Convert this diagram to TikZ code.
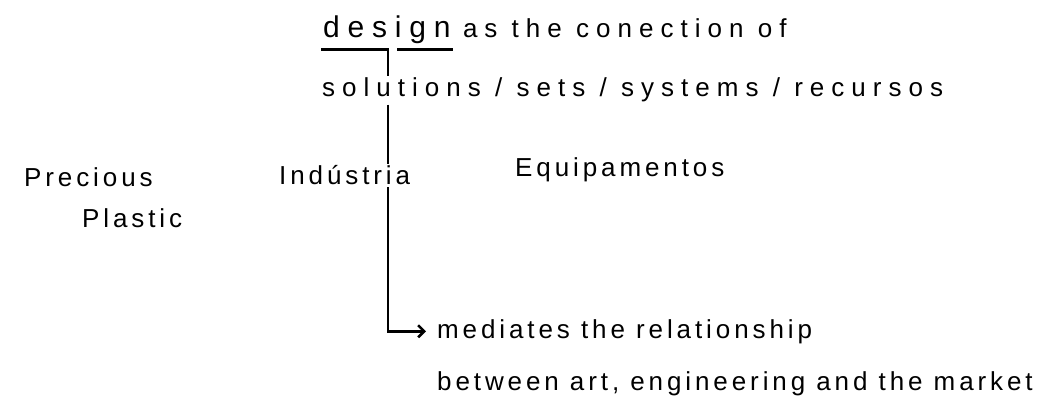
\documentclass[tikz,border=0pt]{standalone}
\usepackage{fontspec}
\newfontfamily\handfont[LetterSpace=15]{Liberation Sans}
\newfontfamily\handwidefont[LetterSpace=27]{Liberation Sans}
\newfontfamily\handbigfont[LetterSpace=26]{Liberation Sans}
\usetikzlibrary{positioning,arrows.meta,calc}
\tikzset{
  hand/.style={font=\handfont\fontsize{26}{30}\selectfont,inner sep=2pt,anchor=base west},
  handwide/.style={hand,font=\handwidefont\fontsize{26}{30}\selectfont},
  handbig/.style={hand,font=\handbigfont\fontsize{30}{34}\selectfont},
  pen/.style={draw=black,line width=2.6pt},
  penarrow/.style={pen,-{Straight Barb[length=6pt,width=12pt]},shorten >=9pt}
}

\begin{document}
\begin{tikzpicture}[x=1pt,y=-1pt]
  \useasboundingbox (0,0) rectangle (1044,414);
  \node[handbig,inner ysep=5pt] (design) at (321,38) {design};
  \node[handwide,base right=8pt of design] (connection) {as the conection of};
  \node[handwide] (solutions) at (320,97) {solutions / sets / systems / recursos};
  \node[hand] (precious) at (22,187) {Precious};
  \node[hand] (plastic) at (80,228) {Plastic};
  \node[hand] (industria) at (277,185) {Indústria};
  \node[hand] (equipamentos) at (513,177) {Equipamentos};
  \node[hand] (mediates) at (435,338) {mediates the relationship};
  \node[hand] (market) at (435,390) {between art, engineering and the market};
  % line from the underlined word down to the note, broken at each text row
  \coordinate (drop) at ($(design.south west)+(67,0)$);
  \draw[pen] ([xshift=9pt]drop) -- (design.south east);
  \draw[pen] (design.south west) -- (drop) -- (drop |- solutions.north);
  \draw[pen] (drop |- solutions.south) -- (drop |- industria.north);
  \draw[penarrow] (drop |- industria.south) |- (mediates.west);
\end{tikzpicture}
\end{document}
